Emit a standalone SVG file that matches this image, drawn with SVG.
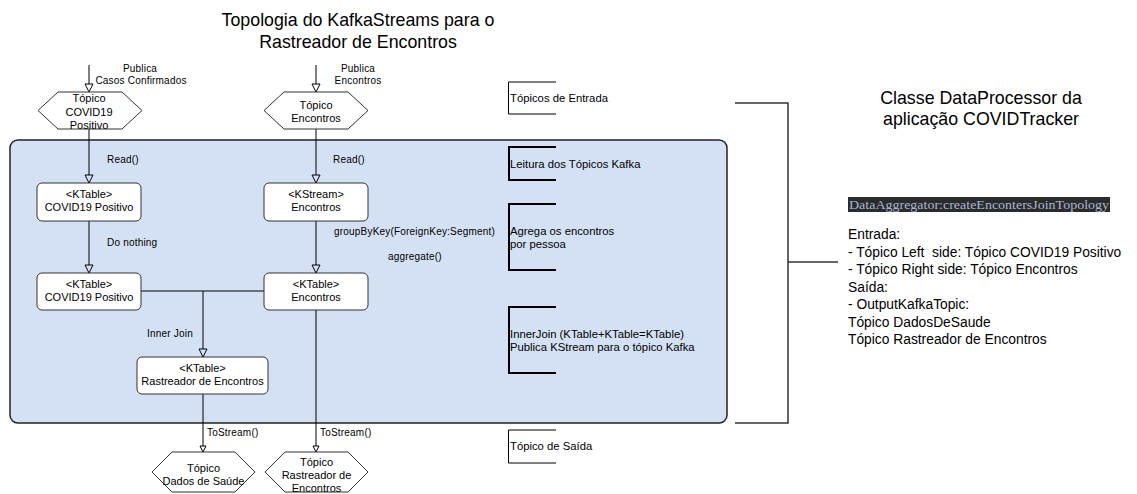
<svg xmlns="http://www.w3.org/2000/svg" width="1137" height="494" viewBox="0 0 1137 494">
<defs>
<style>
.t{font-family:"Liberation Sans",Arial,sans-serif;fill:#000}
.n{font-size:11px;text-anchor:middle}
.e{font-size:10px;letter-spacing:0.2px}
.b{font-size:11.3px}
.c{font-size:13.8px}
.h{font-size:17.8px;text-anchor:middle}
.box{fill:#fff;stroke:#333;stroke-width:1}
.hex{fill:#fff;stroke:#333;stroke-width:1}
.ln{fill:none;stroke:#000;stroke-width:1}
.br{fill:none;stroke:#000;stroke-width:1}
.brt{fill:none;stroke:#000;stroke-width:2}
</style>
<marker id="ah" markerUnits="userSpaceOnUse" markerWidth="10" markerHeight="10" refX="0" refY="4" orient="auto" viewBox="-1 -1 10 10">
<path d="M0,0 L8,4 L0,8 Z" fill="none" stroke="#000" stroke-width="1"/>
</marker>
<marker id="ahs" markerUnits="userSpaceOnUse" markerWidth="8" markerHeight="8" refX="0" refY="3" orient="auto" viewBox="-1 -1 8 8">
<path d="M0,0 L6,3 L0,6 Z" fill="none" stroke="#000" stroke-width="1"/>
</marker>
</defs>
<rect width="1137" height="494" fill="#fff"/>

<g id="container">
<rect x="10" y="140" width="717" height="283" rx="8" ry="8" fill="#d4e1f5" stroke="#222" stroke-width="1.5"/>
</g>

<g id="title">
<text class="t h" x="358" y="26">Topologia do KafkaStreams para o</text>
<text class="t h" x="358" y="48">Rastreador de Encontros</text>
</g>

<g id="connectors">
<line class="ln" x1="89" y1="65" x2="89" y2="84" marker-end="url(#ah)"/>
<line class="ln" x1="316" y1="65" x2="316" y2="84" stroke="#555" marker-end="url(#ah)"/>
<line class="ln" x1="89" y1="129" x2="89" y2="175" marker-end="url(#ah)"/>
<line class="ln" x1="316" y1="117" x2="316" y2="175" marker-end="url(#ah)"/>
<line class="ln" x1="89" y1="221" x2="89" y2="265" marker-end="url(#ah)"/>
<line class="ln" x1="316" y1="221" x2="316" y2="265" marker-end="url(#ah)"/>
<line class="ln" x1="141" y1="291" x2="264" y2="291"/>
<line class="ln" x1="203" y1="291" x2="203" y2="349" marker-end="url(#ah)"/>
<line class="ln" x1="203" y1="394" x2="203" y2="446" marker-end="url(#ahs)"/>
<line class="ln" x1="316" y1="310" x2="316" y2="446" marker-end="url(#ahs)"/>
<text class="t e" x="140" y="72" text-anchor="middle">Publica</text>
<text class="t e" x="141" y="84" text-anchor="middle">Casos Confirmados</text>
<text class="t e" x="358" y="72" text-anchor="middle">Publica</text>
<text class="t e" x="358" y="84" text-anchor="middle">Encontros</text>
<text class="t e" x="107" y="163">Read()</text>
<text class="t e" x="333" y="163">Read()</text>
<text class="t e" x="107" y="246">Do nothing</text>
<text class="t e" x="334" y="235">groupByKey(ForeignKey:Segment)</text>
<text class="t e" x="388" y="260">aggregate()</text>
<text class="t e" x="147" y="337">Inner Join</text>
<text class="t e" x="207" y="436">ToStream()</text>
<text class="t e" x="320" y="436">ToStream()</text>
</g>

<g id="topic-covid">
<polygon class="hex" points="38,110.5 58,92 122,92 142,110.5 122,129 58,129"/>
<text class="t n" x="89" y="102">Tópico</text>
<text class="t n" x="89" y="116">COVID19</text>
<text class="t n" x="89" y="129">Positivo</text>
</g>
<g id="topic-encontros">
<polygon class="hex" points="264,110.5 284,92 348,92 368,110.5 348,129 284,129"/>
<text class="t n" x="316" y="109">Tópico</text>
<text class="t n" x="316" y="122">Encontros</text>
</g>

<g id="ktable-covid-1">
<rect class="box" x="37" y="183" width="104" height="38" rx="5"/>
<text class="t n" x="89" y="198">&lt;KTable&gt;</text>
<text class="t n" x="89" y="211">COVID19 Positivo</text>
</g>
<g id="kstream-encontros">
<rect class="box" x="264" y="183" width="104" height="38" rx="5"/>
<text class="t n" x="316" y="198">&lt;KStream&gt;</text>
<text class="t n" x="316" y="211">Encontros</text>
</g>
<g id="ktable-covid-2">
<rect class="box" x="37" y="273" width="104" height="37" rx="5"/>
<text class="t n" x="89" y="288">&lt;KTable&gt;</text>
<text class="t n" x="89" y="301">COVID19 Positivo</text>
</g>
<g id="ktable-encontros">
<rect class="box" x="264" y="273" width="104" height="37" rx="5"/>
<text class="t n" x="316" y="288">&lt;KTable&gt;</text>
<text class="t n" x="316" y="301">Encontros</text>
</g>
<g id="ktable-rastreador">
<rect class="box" x="137" y="357" width="131" height="37" rx="5"/>
<text class="t n" x="202.5" y="372">&lt;KTable&gt;</text>
<text class="t n" x="202.5" y="385">Rastreador de Encontros</text>
</g>

<g id="topic-dados-saude">
<polygon class="hex" points="152,472 172,452 235,452 255,472 235,492 172,492"/>
<text class="t n" x="203.5" y="472">Tópico</text>
<text class="t n" x="203.5" y="485">Dados de Saúde</text>
</g>
<g id="topic-rastreador">
<polygon class="hex" points="265,472 285,452 348,452 368,472 348,492 285,492"/>
<text class="t n" x="316.5" y="466">Tópico</text>
<text class="t n" x="316.5" y="479">Rastreador de</text>
<text class="t n" x="316.5" y="492">Encontros</text>
</g>

<g id="bracket-entrada">
<path class="br" d="M556,82 H508.5 V114 H556"/>
<text class="t b" x="510" y="102">Tópicos de Entrada</text>
</g>
<g id="bracket-leitura">
<path class="brt" d="M556,147 H509 V180 H556"/>
<text class="t b" x="510" y="168">Leitura dos Tópicos Kafka</text>
</g>
<g id="bracket-agrega">
<path class="brt" d="M556,204 H509 V270 H556"/>
<text class="t b" x="510" y="235">Agrega os encontros</text>
<text class="t b" x="510" y="248">por pessoa</text>
</g>
<g id="bracket-innerjoin">
<path class="brt" d="M556,307 H509 V373 H556"/>
<text class="t b" x="510" y="338">InnerJoin (KTable+KTable=KTable)</text>
<text class="t b" x="510" y="351">Publica KStream para o tópico Kafka</text>
</g>
<g id="bracket-saida">
<path class="br" d="M556,430 H508.5 V463 H556"/>
<text class="t b" x="510" y="450">Tópico de Saída</text>
</g>

<g id="big-bracket">
<path d="M735,103 H788 V423 H735 M788,262 H838" fill="none" stroke="#333" stroke-width="1.5"/>
</g>

<g id="class-info">
<text class="t h" x="981" y="104">Classe DataProcessor da</text>
<text class="t h" x="981" y="125">aplicação COVIDTracker</text>
<rect x="848" y="197" width="262" height="15" fill="#2b2b2b"/>
<text x="849" y="209" font-family="Liberation Serif,'Times New Roman',serif" font-size="12.5" fill="#a9b7d6" textLength="260" lengthAdjust="spacingAndGlyphs">DataAggregator:createEncontersJoinTopology</text>
<text class="t c" x="848" y="239">Entrada:</text>
<text class="t c" x="848" y="257" xml:space="preserve">- Tópico Left  side: Tópico COVID19 Positivo</text>
<text class="t c" x="848" y="274">- Tópico Right side: Tópico Encontros</text>
<text class="t c" x="848" y="292">Saída:</text>
<text class="t c" x="848" y="309">- OutputKafkaTopic:</text>
<text class="t c" x="848" y="327">Tópico DadosDeSaude</text>
<text class="t c" x="848" y="344">Tópico Rastreador de Encontros</text>
</g>
</svg>
